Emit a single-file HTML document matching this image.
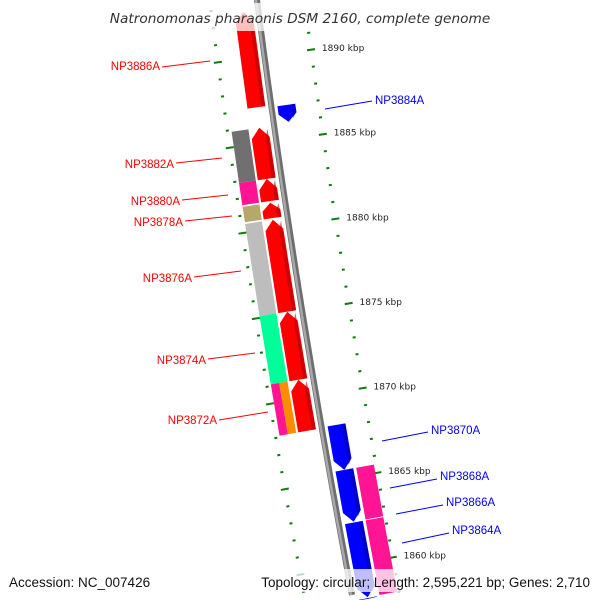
<!DOCTYPE html>
<html><head><meta charset="utf-8"><style>
body{margin:0;background:#fff;overflow:hidden;}
svg{display:block;font-family:"Liberation Sans",sans-serif;}
</style></head><body>
<svg id="map" width="600" height="600" viewBox="0 0 600 600" xmlns="http://www.w3.org/2000/svg">
<g id="ticks"></g>
<g id="genes"></g>
<g id="labels"></g>
<rect x="105" y="3" width="390" height="28" fill="#fff" opacity="0.75"/>
<text x="300" y="23" text-anchor="middle" font-size="13.7" font-style="italic" fill="#333" font-family="DejaVu Sans, sans-serif">Natronomonas pharaonis DSM 2160, complete genome</text>
<rect x="0" y="569" width="600" height="23" fill="#fff" opacity="0.75"/>
<text x="9" y="587" font-size="13.5" fill="#111">Accession: NC_007426</text>
<text x="590" y="587" font-size="13.5" fill="#111" text-anchor="end">Topology: circular; Length: 2,595,221 bp; Genes: 2,710</text>
</svg>
<script>
// ---- data ----
const majorTicks = [1890, 1885, 1880, 1875, 1870, 1865, 1860];
const tickLabels = ["1890 kbp","1885 kbp","1880 kbp","1875 kbp","1870 kbp","1865 kbp","1860 kbp"];
const geneNames  = ["NP3886A","NP3884A","NP3882A","NP3880A","NP3878A","NP3876A","NP3874A","NP3872A","NP3870A","NP3868A","NP3866A","NP3864A"];
const geneStart  = [1887.1, 1886.0, 1882.9, 1881.6, 1880.6, 1875.1, 1871.1, 1868.1, 1865.5, 1862.45, 1858.0, 1857.9];
const geneEnd    = [1892.7, 1887.0, 1885.9, 1882.9, 1881.5, 1880.5, 1875.1, 1871.1, 1868.15, 1865.5, 1862.4, 1857.95];
const geneStrand = [1, -1, 1, 1, 1, 1, 1, 1, -1, -1, -1, -1];
const geneCog    = ["", "", "#707070", "#ff1493", "#b5a86a", "#bdbdbd", "#00ff99", "#ff1493|#ff8c00", "", "#ff1493", "#ff1493", ""];
const labelTextX = [160, 375, 174, 180, 183, 192, 206, 217, 431, 440, 446, 452];
const labelTextY = [70, 104, 168, 205, 226, 282, 364, 424, 434, 480, 506, 534];
const labelLine  = [[162,67,210,61],[325,109,372,101],[176,163,222,158],[182,200,228,195],[185,221,232,216],[194,277,241,271],[208,359,255,353],[219,420,268,412],[382,441,428,432],[390,488,437,479],[396,514,443,505],[402,543,449,533]];

// ---- geometry ----
const NS="http://www.w3.org/2000/svg";
function B(y){return 257+0.13*y+0.00005*y*y;}
function Bs(y){return 0.13+0.0001*y;}
function kY(k){return 56+(1890-k)*17;}
function P(k,r){const y=kY(k),s=Bs(y),n=Math.sqrt(1+s*s);return [B(y)+r/n, y-r*s/n];}
function pts(a){return a.map(p=>p[0].toFixed(1)+","+p[1].toFixed(1)).join(" ");}
function mk(tag,attrs,parent){const e=document.createElementNS(NS,tag);for(const k in attrs)e.setAttribute(k,attrs[k]);parent.appendChild(e);return e;}

const tg=document.getElementById('ticks'), gg=document.getElementById('genes'), lg=document.getElementById('labels');

// backbone
{
  const a=[];for(let k=1893.3;k>=1857.9;k-=0.5)a.push(P(k,0));
  const bb=mk('polyline',{points:pts(a),fill:'none',stroke:'#6e6e6e','stroke-width':6},gg);
  
  
  const a2=[];for(let k=1893.3;k>=1857.9;k-=0.5)a2.push(P(k,-1));
  const hl=mk('polyline',{points:pts(a2),fill:'none',stroke:'#a8a8a8','stroke-width':2.5},gg);
  
  
}

// ticks
for(let k=1893;k>=1858;k--){
  const major=majorTicks.indexOf(k);
  const len=major>=0?8:3;
  [47,-47].forEach(r=>{
    const p1=P(k,r-len/2),p2=P(k,r+len/2);
    if(p1[1]>598||p2[1]>598)return;
    const t=mk('line',{x1:p1[0],y1:p1[1],x2:p2[0],y2:p2[1],stroke:'#0a7d0a','stroke-width':2},tg);
    
    
  });
  if(major>=0){
    const p=P(k,58);
    const tx=mk('text',{x:p[0],y:p[1]+3,'font-size':9,fill:'#222','font-family':'DejaVu Sans, sans-serif'},tg);
    tx.textContent=tickLabels[major];
    
    
  }
}

function dark(c){return {"#ff0000":"#b00000","#0000ff":"#0000a0"}[c]||c;}
function bar(k1,k2,r1,r2,fill,name){
  const el=mk('polygon',{points:pts([P(k2,r1),P(k2,r2),P(k1,r2),P(k1,r1)]),fill:fill},gg);
  
  
}
// genes
geneNames.forEach((nm,i)=>{
  const st=geneStrand[i], lo=geneStart[i], hi=geneEnd[i];
  const col=st>0?'#ff0000':'#0000ff';
  const r1=st>0?-24:6, r2=st>0?-6:24;
  const hl=Math.min(0.6,(hi-lo)/2);
  const m=(r1+r2)/2;
  let poly;
  if(st>0){
    poly=[P(lo,r1),P(hi-hl,r1),P(hi,m),P(hi-hl,r2),P(lo,r2)];
  }else{
    poly=[P(hi,r1),P(hi,r2),P(lo+hl,r2),P(lo,m),P(lo+hl,r1)];
  }
  const g=mk('polygon',{points:pts(poly),fill:col},gg);
  
  
  const sr1=r2-4;
  const s=mk('polygon',{points:pts(st>0?[P(lo,sr1),P(hi-hl,sr1),P(hi-hl*0.2,r2-1),P(lo,r2)]:[P(hi,sr1),P(hi,r2),P(lo+hl,r2),P(lo+hl*0.4,sr1)]),fill:dark(col),opacity:0.6},gg);
  
  
  if(geneCog[i]){
    const cols=geneCog[i].split('|');
    const o1=st>0?-43:27, o2=st>0?-26:45;
    const w=(o2-o1)/cols.length;
    cols.forEach((c,j)=>bar(lo,hi,o1+j*w,o1+(j+1)*w,c,'cog-block-'+nm));
  }
  const L=labelLine[i];
  const ln=mk('line',{x1:L[0],y1:L[1],x2:L[2],y2:L[3],stroke:col,'stroke-width':1},lg);
  
  
  const tx=mk('text',{x:labelTextX[i],y:labelTextY[i],'font-size':11.5,fill:col,'text-anchor':st>0?'end':'start'},lg);
  tx.textContent=nm;
  
  
});
</script>
</body></html>
